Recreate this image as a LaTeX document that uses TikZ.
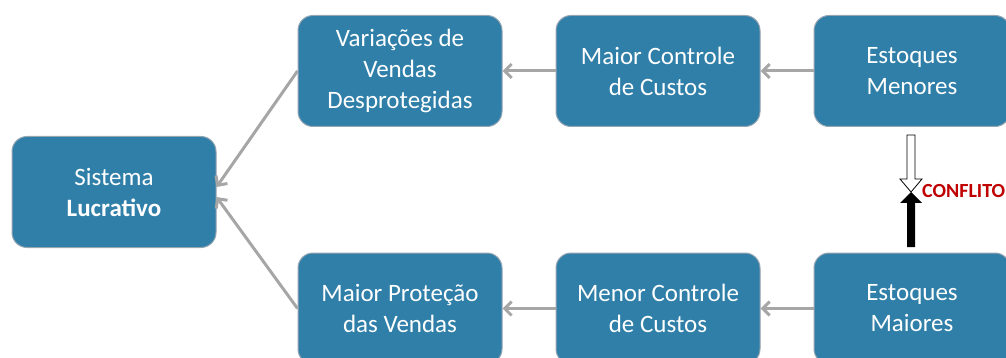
\documentclass[tikz,border=0pt]{standalone}
\usepackage{fontspec}
\setmainfont{Carlito}
\usetikzlibrary{arrows.meta}
\definecolor{boxblue}{RGB}{47,127,169}
\definecolor{boxedge}{RGB}{150,165,178}
\definecolor{arrgray}{RGB}{166,166,166}
\definecolor{confred}{RGB}{192,0,0}
\tikzset{
  box/.style={rounded corners=15pt, fill=boxblue, draw=boxedge, line width=1pt,
    minimum width=204pt, minimum height=111pt, text=white, align=center,
    inner sep=0pt, font=\fontsize{25}{31}\selectfont},
  conn/.style={draw=arrgray, line width=3pt, -{Straight Barb[length=7pt,width=14pt]}},
  conflabel/.style={text=confred, font=\fontsize{20}{22}\selectfont\bfseries, inner sep=0pt, anchor=west}
}
\begin{document}
\begin{tikzpicture}[x=1pt,y=-1pt]
\useasboundingbox (0,0) rectangle (1006,358);
\node[box] (sis) at (114,192) {Sistema\\\textbf{Lucrativo}};
\node[box] (var) at (400,71) {Variações de\\Vendas\\Desprotegidas};
\node[box] (mac) at (658,71) {Maior Controle\\de Custos};
\node[box, minimum width=196pt] (emn) at (912,71) {Estoques\\Menores};
\node[box] (mpv) at (400,308.5) {Maior Proteção\\das Vendas};
\node[box] (mcc) at (658,308.5) {Menor Controle\\de Custos};
\node[box, minimum width=196pt] (ema) at (912,308.5) {Estoques\\Maiores};
\draw[conn] (emn.west) -- (mac.east);
\draw[conn] (mac.west) -- (var.east);
\draw[conn] (ema.west) -- (mcc.east);
\draw[conn] (mcc.west) -- (mpv.east);
\draw[conn] (var.west) -- ([yshift=5pt]sis.east);
\draw[conn] (mpv.west) -- ([yshift=-5pt]sis.east);
\coordinate (cx) at (911,192);
\draw[black, line width=0.8pt, fill=white] (907,135) -- (907,179) -- (900,179) -- (cx) -- (922,179) -- (915,179) -- (915,135) -- cycle;
\fill[black] (907,247) -- (907,203) -- (900,203) -- (cx) -- (922,203) -- (915,203) -- (915,247) -- cycle;
\node[conflabel] (conf) at (922,191) {CONFLITO};
\end{tikzpicture}
\end{document}
